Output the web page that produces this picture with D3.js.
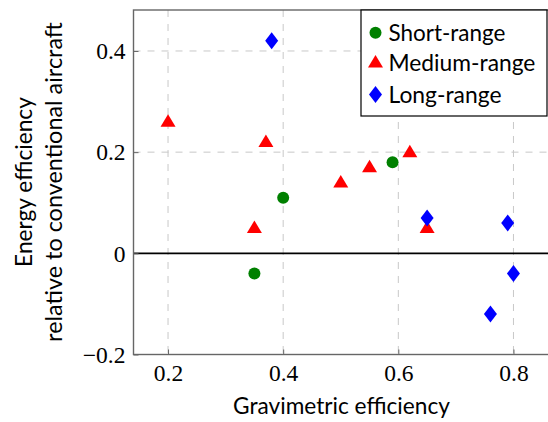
<!DOCTYPE html>
<html><head><meta charset="utf-8">
<script src="https://cdn.jsdelivr.net/npm/d3@7"></script>
<style>body{margin:0;background:#fff}svg{display:block}</style>
</head><body>
<svg id="c" width="548" height="422"></svg>
<script>
const shortRange = [[0.35,-0.04],[0.40,0.11],[0.59,0.18]];
const mediumRange = [[0.20,0.26],[0.35,0.05],[0.37,0.22],[0.50,0.14],[0.55,0.17],[0.62,0.20],[0.65,0.05]];
const longRange = [[0.38,0.42],[0.65,0.07],[0.76,-0.12],[0.79,0.06],[0.80,-0.04]];
const xTicks = [0.2,0.4,0.6,0.8];
const yTicks = [-0.2,0,0.2,0.4];
const seriesNames = ["Short-range","Medium-range","Long-range"];
const colors = ["#008000","#ff0000","#0000ff"];

const svg = d3.select("#c");
const L=133.5, R=548, T=10, B=354.5;
const x = d3.scaleLinear().domain([0.14,0.86]).range([L,R]);
const y = d3.scaleLinear().domain([-0.2,0.481]).range([B,T]);
const serif = "'Liberation Serif', 'Times New Roman', serif";
const sans = "Lato, 'DejaVu Sans', sans-serif";

function fit(sel, target){
  const w = sel.node().getComputedTextLength();
  const fs = parseFloat(sel.style("font-size"));
  sel.style("font-size", (fs*target/w)+"px");
}

// grid
const g = svg.append("g");
g.selectAll("line.vx").data(xTicks).join("line")
 .attr("x1",d=>x(d)).attr("x2",d=>x(d)).attr("y1",T).attr("y2",B)
 .attr("stroke","#c8c8c8").attr("stroke-width",1).attr("stroke-dasharray","7,7");
g.selectAll("line.hy").data(yTicks.filter(d=>d!==0 && d!==-0.2)).join("line")
 .attr("x1",L).attr("x2",R).attr("y1",d=>y(d)).attr("y2",d=>y(d))
 .attr("stroke","#c8c8c8").attr("stroke-width",1).attr("stroke-dasharray","7,7");

// zero line
svg.append("line").attr("x1",L).attr("x2",R).attr("y1",y(0)).attr("y2",y(0))
 .attr("stroke","#000").attr("stroke-width",1.6);

// axes
const xa = svg.append("g").attr("transform",`translate(0,${B})`)
 .call(d3.axisBottom(x).tickValues(xTicks).tickSize(-5).tickPadding(0).tickFormat(d3.format(".1f")));
const ya = svg.append("g").attr("transform",`translate(${L},0)`)
 .call(d3.axisLeft(y).tickValues(yTicks).tickSize(-5).tickPadding(8)
   .tickFormat(d=> d===0 ? "0" : (d<0 ? "\u2212"+Math.abs(d).toFixed(1) : d.toFixed(1))));
[xa,ya].forEach(a=>{
  a.attr("font-family",null).attr("font-size",null);
  a.select(".domain").remove();
  a.selectAll(".tick line").attr("stroke","#666");
  a.selectAll("text").style("font-family",serif).style("font-size","23.5px").attr("fill","#000");
});
xa.selectAll("text").attr("dy",null).attr("y",26.5);
ya.selectAll("text").attr("dy","0.33em");
// frame
svg.append("rect").attr("x",L).attr("y",T).attr("width",R-L+2).attr("height",B-T)
 .attr("fill","none").attr("stroke","#666").attr("stroke-width",1.4);

// marks
function drawMarker(sel, i){
  if(i===0) sel.append("circle").attr("r",6).attr("fill",colors[0]);
  else if(i===1) sel.append("path").attr("d","M0,-7.5L7.5,5L-7.5,5Z").attr("fill",colors[1]);
  else sel.append("path").attr("d","M0,-8.5L6.5,0L0,8.5L-6.5,0Z").attr("fill",colors[2]);
}
[shortRange,mediumRange,longRange].forEach((data,i)=>{
  svg.append("g").selectAll("g").data(data).join("g")
   .attr("transform",d=>`translate(${x(d[0])},${y(d[1])})`)
   .each(function(){ drawMarker(d3.select(this), i); });
});

// legend
const lg = svg.append("g");
lg.append("rect").attr("x",361).attr("y",10).attr("width",186).attr("height",106)
 .attr("fill","#fff").attr("stroke","#000").attr("stroke-width",1.2);
const legendW = [117,147,113];
const legendY = [32.7,62.5,94.5];
seriesNames.forEach((n,i)=>{
  const cy = legendY[i];
  const m = lg.append("g").attr("transform",`translate(375.5,${cy})`);
  drawMarker(m,i);
  const t = lg.append("text").attr("x",388.5).attr("y",cy).attr("dy","0.36em")
   .style("font-family",sans).style("font-size","20px").text(n);
  fit(t, legendW[i]);
});

// axis labels
const xl = svg.append("text").attr("x",341.5).attr("y",414).attr("text-anchor","middle")
 .style("font-family",sans).style("font-size","20px").text("Gravimetric efficiency");
fit(xl, 217);
const yl1 = svg.append("text").attr("transform",`translate(32,182) rotate(-90)`)
 .attr("text-anchor","middle").style("font-family",sans).style("font-size","20px").text("Energy efficiency");
fit(yl1, 170);
const yl2 = svg.append("text").attr("transform",`translate(62,182) rotate(-90)`)
 .attr("text-anchor","middle").style("font-family",sans).style("font-size","20px").text("relative to conventional aircraft");
fit(yl2, 320);
</script>
</body></html>
